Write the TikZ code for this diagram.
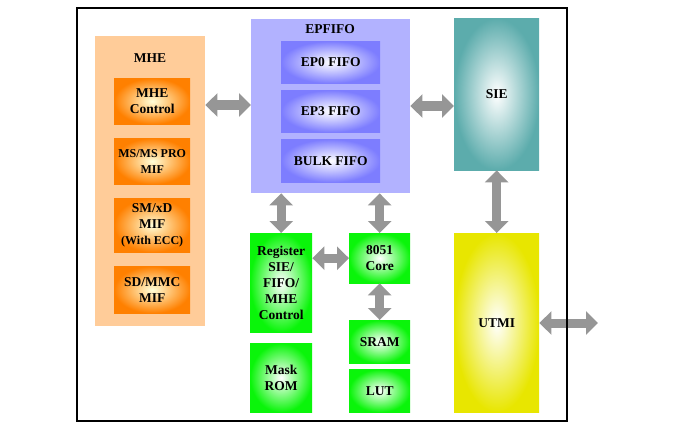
\documentclass[tikz,border=0pt]{standalone}
\usepackage{fontspec}
\setmainfont{Liberation Serif}
\usetikzlibrary{arrows.meta}
\definecolor{peach}{RGB}{255,204,153}
\definecolor{mhecol}{RGB}{255,128,0}
\definecolor{lavender}{RGB}{178,178,255}
\definecolor{fifocol}{RGB}{125,125,255}
\definecolor{teal}{RGB}{92,172,172}
\definecolor{utmicol}{RGB}{232,230,0}
\definecolor{greencol}{RGB}{10,245,10}
\definecolor{arrowgray}{RGB}{150,150,150}
\tikzstyle{block}=[anchor=north west, align=center, inner sep=0pt,
  font=\bfseries\fontsize{13.5}{16}\selectfont]
\tikzstyle{group}=[block, anchor=north west]
\tikzstyle{mif}=[block, inner color=white!85!yellow, outer color=mhecol]
\tikzstyle{fifo}=[block, inner color=white, outer color=fifocol]
\tikzstyle{green block}=[block, inner color=white, outer color=greencol]
\tikzstyle{title}=[font=\bfseries\fontsize{13.5}{16}\selectfont]
\tikzstyle{bus}=[draw=arrowgray, line width=9pt,
  {Triangle[width=23pt,length=12pt]}-{Triangle[width=23pt,length=12pt]}]

\begin{document}
\begin{tikzpicture}[x=1pt, y=-1pt]
      \useasboundingbox (0,0) rectangle (692,433);

      % MHE group
      \node[group, fill=peach, minimum width=110pt, minimum height=290pt] (mhe) at (95,36) {};
      \node[title] (mhetitle) at (150,58) {MHE};
      \node[mif, minimum width=76pt, minimum height=46pt] (mhectl) at (114,78) {MHE\\Control};
      \node[mif, minimum width=76pt, minimum height=46pt,
        font=\bfseries\fontsize{12}{16}\selectfont] (msmif) at (114,138) {MS/MS PRO\\MIF};
      \node[mif, minimum width=76pt, minimum height=54pt] (smmif) at (114,198)
        {SM/xD\\MIF\\{\fontsize{12}{16}\selectfont(With ECC)}};
      \node[mif, minimum width=76pt, minimum height=47pt] (sdmif) at (114,266) {SD/MMC\\MIF};

      % EPFIFO group
      \node[group, fill=lavender, minimum width=159pt, minimum height=174pt] (epfifo) at (251,19) {};
      \node[title] (epfifotitle) at (330,29) {EPFIFO};
      \node[fifo, minimum width=99pt, minimum height=42pt] (ep0) at (281,41) {EP0 FIFO};
      \node[fifo, minimum width=99pt, minimum height=42pt] (ep3) at (281,90) {EP3 FIFO};
      \node[fifo, minimum width=99pt, minimum height=43pt] (bulk) at (281,139) {BULK FIFO};

      \node[block, inner color=white, outer color=teal, minimum width=85pt, minimum height=152pt] (sie) at (454,18) {SIE};
      \node[block, inner color=white, outer color=utmicol, minimum width=85pt, minimum height=179pt] (utmi) at (454,233) {UTMI};

      \node[green block, minimum width=62pt, minimum height=99pt] (reg) at (250,233) {Register\\SIE/\\FIFO/\\MHE\\Control};
      \node[green block, minimum width=62pt, minimum height=69pt] (rom) at (250,343) {Mask\\ROM};
      \node[green block, minimum width=61pt, minimum height=50pt] (core) at (349,233) {8051\\Core};
      \node[green block, minimum width=61pt, minimum height=43pt] (sram) at (349,320) {SRAM};
      \node[green block, minimum width=61pt, minimum height=43pt] (lut) at (349,369) {LUT};

      \coordinate (usb) at (598,323);

      \draw[bus] (mhe.east |- 0,105) -- (epfifo.west |- 0,105);
      \draw[bus] (epfifo.east |- 0,106) -- (sie.west |- 0,106);
      \draw[bus] (reg.east |- core) -- (core.west);
      \foreach \n in {reg, core}{
        \draw[bus] (epfifo.south -| \n.north) -- (\n.north);
      }
      \draw[bus] (sie.south) -- (utmi.north);
      \draw[bus] (core.south) -- (sram.north);
      \draw[bus] (utmi.east |- usb) -- (usb);

      \draw[line width=1.8pt] (77,8) rectangle (567,421);
\end{tikzpicture}
\end{document}
